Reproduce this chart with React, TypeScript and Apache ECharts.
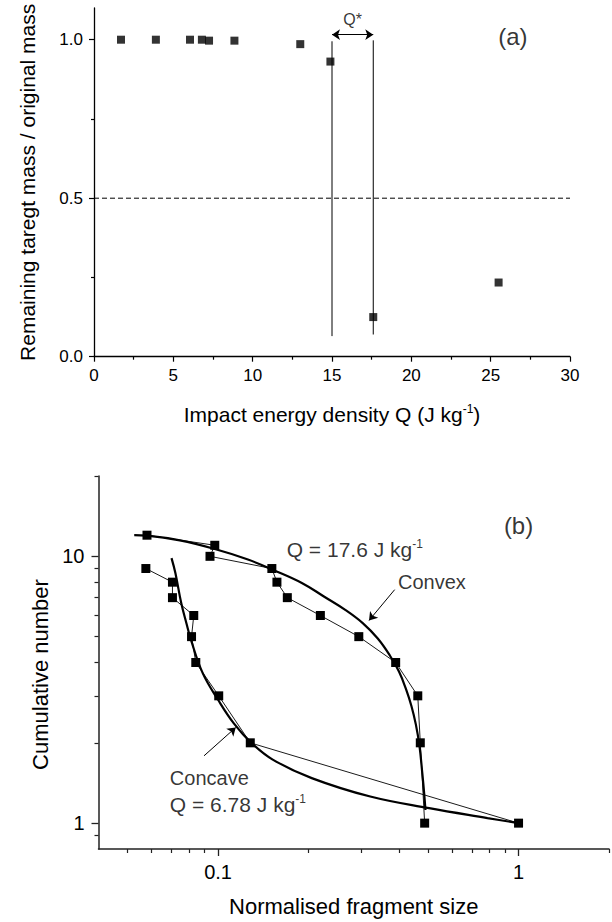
import React, { useEffect, useRef } from 'react';
import * as echarts from 'echarts';

// ---- Panel (a) data ----
const impactQ = [1.7, 3.9, 6.05, 6.8, 7.25, 8.85, 13.0, 14.9, 17.6, 25.5];
const massRatio = [1.0, 1.0, 1.0, 1.0, 0.997, 0.997, 0.986, 0.931, 0.125, 0.234];
const xTicksA = [0, 5, 10, 15, 20, 25, 30];
const yTicksA = [0, 0.5, 1.0];
const yMinorA = [0.25, 0.75];
const qStarBounds = [15, 17.6];
const qStarLineBottom = [0.065, 0.07];
const qStarLineTop = [0.995, 0.998];
const halfMass = 0.5;

// ---- Panel (b) data ----
const convexSize = [0.058, 0.0975, 0.094, 0.151, 0.157, 0.17, 0.219, 0.294, 0.39, 0.462, 0.471, 0.487];
const convexCount = [12, 11, 10, 9, 8, 7, 6, 5, 4, 3, 2, 1];
const concaveSize = [0.0575, 0.0705, 0.0705, 0.083, 0.0816, 0.0843, 0.1005, 0.128, 1.0];
const concaveCount = [9, 8, 7, 6, 5, 4, 3, 2, 1];
const convexFitSize = [0.0526, 0.058, 0.0746, 0.0975, 0.125, 0.152, 0.19, 0.225, 0.265, 0.303, 0.34, 0.373, 0.4, 0.423, 0.44, 0.455, 0.468, 0.478, 0.485, 0.49];
const convexFitCount = [12.0, 11.95, 11.47, 10.65, 9.75, 8.91, 7.95, 7.07, 6.3, 5.62, 4.92, 4.25, 3.7, 3.16, 2.75, 2.35, 1.95, 1.55, 1.3, 1.12];
const concaveFitSize = [0.07, 0.0721, 0.0754, 0.0785, 0.0813, 0.0889, 0.1, 0.113, 0.129, 0.152, 0.205, 0.321, 0.504, 0.788, 1.0];
const concaveFitCount = [9.85, 8.66, 6.68, 5.6, 4.85, 3.65, 2.9, 2.36, 2.0, 1.73, 1.475, 1.258, 1.138, 1.045, 1.0];
const xMajorB = [0.1, 1];
const xMinorB = [0.05, 0.06, 0.07, 0.08, 0.09, 0.2, 0.3, 0.4, 0.5, 0.6, 0.7, 0.8, 0.9, 2];
const yMajorB = [1, 10];
const yMinorB = [0.9, 2, 3, 4, 5, 6, 7, 8, 9, 20];

const FONT = '"Liberation Sans", Arial, Helvetica, sans-serif';
const BLACK = '#000';

const zip = (a: number[], b: number[]) => a.map((v, i) => [v, b[i]]);
const fmtLog = (v: number) => String(Number(Number(v).toPrecision(3)));

function textPoint(
  x: number, y: number, formatter: string, xi: number, yi: number,
  position: string, rich: Record<string, any>
) {
  return {
    type: 'scatter', xAxisIndex: xi, yAxisIndex: yi, silent: true,
    symbolSize: 0, itemStyle: { color: BLACK },
    data: [[x, y]],
    label: {
      show: true, position, distance: 0, formatter, rich, color: BLACK, fontFamily: FONT,
      textBorderWidth: 0, textShadowBlur: 0,
    },
    z: 10,
  };
}

export default function App() {
  const ref = useRef<HTMLDivElement>(null);
  useEffect(() => {
    if (!ref.current) return;
    const chart = echarts.init(ref.current, null, { renderer: 'svg' });

    const axisLineA = { show: true, onZero: false, lineStyle: { color: BLACK, width: 1.3 } };
    const axisLineB = { show: true, onZero: false, lineStyle: { color: '#222', width: 1.5 } };

    const tok = (size: number) => ({ fontSize: size, lineHeight: size + 3, fontFamily: FONT, color: BLACK, textBorderWidth: 0 });
    const sup = { fontSize: 12, lineHeight: 12, verticalAlign: 'top', fontFamily: FONT, color: BLACK, textBorderWidth: 0 };
    const richQ = { t: tok(21), s: sup };
    const richTitleA = { t: tok(21), s: sup };
    const richPlain = (size: number) => ({ t: tok(size) });

    const option: any = {
      animation: false,
      textStyle: { fontFamily: FONT, color: BLACK },
      grid: [
        { left: 94, top: 8, width: 476, height: 348.7 },
        { left: 98.5, top: 476, width: 510.5, height: 373 },
      ],
      xAxis: [
        {
          gridIndex: 0, type: 'value', min: xTicksA[0], max: xTicksA[xTicksA.length - 1], interval: 5,
          axisLine: axisLineA,
          axisTick: { show: true, inside: false, length: 5, lineStyle: { color: BLACK, width: 1.2 } },
          minorTick: { show: true, splitNumber: 2, length: 3, lineStyle: { color: BLACK, width: 1.2 } },
          splitLine: { show: false }, minorSplitLine: { show: false },
          axisLabel: { fontSize: 17, margin: 10, color: BLACK, fontFamily: FONT },
          name: '{t|Impact energy density Q (J kg}{s|-1}{t|)}',
          nameLocation: 'middle', nameGap: 46,
          nameTextStyle: { rich: richTitleA },
        },
        {
          gridIndex: 1, type: 'log', logBase: 10, min: 0.04, max: 2,
          axisLine: axisLineB,
          axisTick: { show: true, inside: false, length: 7, customValues: xMajorB, lineStyle: { color: '#222', width: 1.3 } },
          splitLine: { show: false },
          axisLabel: { fontSize: 20, margin: 13, color: BLACK, fontFamily: FONT, customValues: xMajorB, formatter: fmtLog },
          name: 'Normalised fragment size',
          nameLocation: 'middle', nameGap: 46,
          nameTextStyle: { fontSize: 22, fontFamily: FONT, color: BLACK },
        },
        {
          gridIndex: 1, type: 'log', logBase: 10, min: 0.04, max: 2, position: 'bottom', offset: 0,
          axisLine: { show: false },
          axisTick: { show: true, inside: false, length: 4, customValues: xMinorB, lineStyle: { color: '#222', width: 1.2 } },
          splitLine: { show: false },
          axisLabel: { show: false },
        },
      ],
      yAxis: [
        {
          gridIndex: 0, type: 'value', min: 0, max: 1.1,
          axisLine: axisLineA,
          axisTick: { show: true, inside: false, length: 5, customValues: yTicksA, lineStyle: { color: BLACK, width: 1.2 } },
          splitLine: { show: false },
          axisLabel: {
            fontSize: 17, margin: 11, color: BLACK, fontFamily: FONT, customValues: yTicksA,
            formatter: (v: number) => Number(v).toFixed(1),
          },
          name: 'Remaining taregt mass / original mass',
          nameLocation: 'middle', nameGap: 56,
          nameTextStyle: { fontSize: 21, fontFamily: FONT, color: BLACK },
        },
        {
          gridIndex: 0, type: 'value', min: 0, max: 1.1, position: 'left', offset: 0,
          axisLine: { show: false },
          axisTick: { show: true, inside: false, length: 3, customValues: yMinorA, lineStyle: { color: BLACK, width: 1.2 } },
          splitLine: { show: false },
          axisLabel: { show: false },
        },
        {
          gridIndex: 1, type: 'log', logBase: 10, min: 0.8, max: 20,
          axisLine: axisLineB,
          axisTick: { show: true, inside: false, length: 7, customValues: yMajorB, lineStyle: { color: '#222', width: 1.3 } },
          splitLine: { show: false },
          axisLabel: { fontSize: 20, margin: 14, color: BLACK, fontFamily: FONT, customValues: yMajorB, formatter: fmtLog },
          name: 'Cumulative number',
          nameLocation: 'middle', nameGap: 47,
          nameTextStyle: { fontSize: 22, fontFamily: FONT, color: BLACK, padding: [0, 24, 0, 0] },
        },
        {
          gridIndex: 1, type: 'log', logBase: 10, min: 0.8, max: 20, position: 'left', offset: 0,
          axisLine: { show: false },
          axisTick: { show: true, inside: false, length: 4, customValues: yMinorB, lineStyle: { color: '#222', width: 1.2 } },
          splitLine: { show: false },
          axisLabel: { show: false },
        },
      ],
      series: [
        // ---- panel (a) ----
        {
          type: 'line', xAxisIndex: 0, yAxisIndex: 0, symbol: 'none', silent: true,
          lineStyle: { color: BLACK, width: 1, type: [5, 3] },
          data: [[xTicksA[0], halfMass], [xTicksA[xTicksA.length - 1], halfMass]],
        },
        {
          type: 'line', xAxisIndex: 0, yAxisIndex: 0, symbol: 'none', silent: true,
          lineStyle: { color: BLACK, width: 1 },
          data: [[qStarBounds[0], qStarLineBottom[0]], [qStarBounds[0], qStarLineTop[0]]],
        },
        {
          type: 'line', xAxisIndex: 0, yAxisIndex: 0, symbol: 'none', silent: true,
          lineStyle: { color: BLACK, width: 1 },
          data: [[qStarBounds[1], qStarLineBottom[1]], [qStarBounds[1], qStarLineTop[1]]],
        },
        {
          type: 'lines', coordinateSystem: 'cartesian2d', xAxisIndex: 0, yAxisIndex: 0, silent: true,
          symbol: ['arrow', 'arrow'], symbolSize: 8,
          lineStyle: { color: BLACK, width: 1, opacity: 1, curveness: 0 },
          data: [{ coords: [[qStarBounds[0], 1.016], [qStarBounds[1], 1.016]] }],
        },
        {
          type: 'scatter', xAxisIndex: 0, yAxisIndex: 0, symbol: 'rect', symbolSize: 8,
          itemStyle: { color: BLACK }, data: zip(impactQ, massRatio), z: 5,
        },
        textPoint(16.3, 1.063, '{t|Q*}', 0, 0, 'inside', richPlain(16)),
        textPoint(26.4, 1.01, '{t|(a)}', 0, 0, 'inside', richPlain(24)),

        // ---- panel (b) ----
        {
          type: 'line', xAxisIndex: 1, yAxisIndex: 2, symbol: 'none', smooth: 0.4, silent: true,
          lineStyle: { color: BLACK, width: 2.2 }, data: zip(convexFitSize, convexFitCount),
        },
        {
          type: 'line', xAxisIndex: 1, yAxisIndex: 2, symbol: 'none', smooth: 0.4, silent: true,
          lineStyle: { color: BLACK, width: 2.2 }, data: zip(concaveFitSize, concaveFitCount),
        },
        {
          type: 'line', xAxisIndex: 1, yAxisIndex: 2, symbol: 'rect', symbolSize: 9, showAllSymbol: true,
          lineStyle: { color: BLACK, width: 0.9 }, itemStyle: { color: BLACK },
          data: zip(convexSize, convexCount), z: 5,
        },
        {
          type: 'line', xAxisIndex: 1, yAxisIndex: 2, symbol: 'rect', symbolSize: 9, showAllSymbol: true,
          lineStyle: { color: BLACK, width: 0.9 }, itemStyle: { color: BLACK },
          data: zip(concaveSize, concaveCount), z: 5,
        },
        {
          type: 'lines', coordinateSystem: 'cartesian2d', xAxisIndex: 1, yAxisIndex: 2, silent: true,
          symbol: ['none', 'arrow'], symbolSize: 8,
          lineStyle: { color: BLACK, width: 1, opacity: 1, curveness: 0 },
          data: [
            { coords: [[0.387, 7.5], [0.318, 5.75]] },
            { coords: [[0.0898, 1.788], [0.1145, 2.283]] },
          ],
        },
        textPoint(0.1692, 10.59, '{t|Q = 17.6 J kg}{s|-1}', 1, 2, 'right', richQ),
        textPoint(0.397, 7.98, '{t|Convex}', 1, 2, 'right', richPlain(20)),
        textPoint(0.0691, 1.475, '{t|Concave}', 1, 2, 'right', richPlain(20)),
        textPoint(0.0691, 1.171, '{t|Q = 6.78 J kg}{s|-1}', 1, 2, 'right', richQ),
        textPoint(1.0, 13.1, '{t|(b)}', 1, 2, 'inside', richPlain(24)),
      ],
    };

    chart.setOption(option);
    return () => chart.dispose();
  }, []);

  return (
    <div
      ref={ref}
      style={{ position: 'absolute', left: 0, top: 0, width: 612, height: 922, background: '#fff' }}
    />
  );
}
